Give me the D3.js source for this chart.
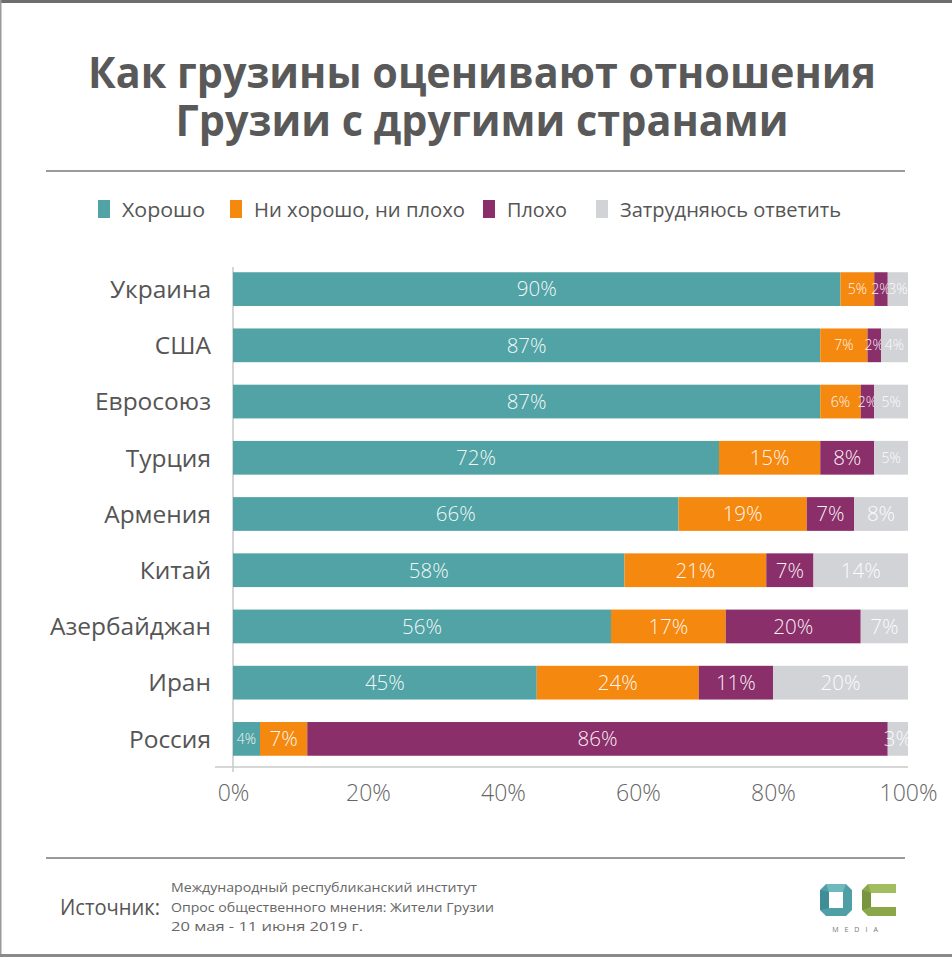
<!DOCTYPE html>
<html><head><meta charset="utf-8">
<script src="https://cdn.jsdelivr.net/npm/d3@7"></script>
<style>body{margin:0;background:#fff}svg{display:block}text{font-family:"Open Sans",sans-serif}</style>
</head><body><svg id="c" width="952" height="960"></svg>
<script>
// ---------- data ----------
const countries = ["Украина","США","Евросоюз","Турция","Армения","Китай","Азербайджан","Иран","Россия"];
const seriesKeys = ["good","neutral","bad","hard"];
const seriesNames = ["Хорошо","Ни хорошо, ни плохо","Плохо","Затрудняюсь ответить"];
const good    = [90,87,87,72,66,58,56,45,4];
const neutral = [5,7,6,15,19,21,17,24,7];
const bad     = [2,2,2,8,7,7,20,11,86];
const hard    = [3,4,5,5,8,14,7,20,3];
const xTicks  = [0,20,40,60,80,100];
const titleLines = ["Как грузины оценивают отношения","Грузии с другими странами"];
const sourceLabel = "Источник:";
const sourceLines = ["Международный республиканский институт","Опрос общественного мнения: Жители Грузии","20 мая - 11 июня 2019 г."];

// ---------- styles ----------
const colors = {good:"#52a3a5", neutral:"#f5880f", bad:"#8b2f6b", hard:"#d2d3d7"};
const smallCells = new Set(["0-1","0-2","0-3","1-1","1-2","1-3","2-1","2-2","2-3","3-3","8-0"]);

const svg = d3.select("#c");
const W = 952, H = 960;

// frame
svg.append("rect").attr("x",0).attr("y",0).attr("width",W).attr("height",3).attr("fill","#6d6d6d");
svg.append("rect").attr("x",0).attr("y",0).attr("width",1.5).attr("height",956).attr("fill","#9a9a9a");
svg.append("rect").attr("x",0).attr("y",954).attr("width",W).attr("height",3).attr("fill","#8a8a8a");

// title
const tWidths = [788, 613];
svg.selectAll("text.title").data(titleLines).join("text")
  .attr("class","title")
  .attr("x",482).attr("y",(d,i)=>88+i*48)
  .attr("text-anchor","middle")
  .attr("font-size",43).attr("font-weight",700).attr("fill","#595959")
  .attr("textLength",(d,i)=>tWidths[i]).attr("lengthAdjust","spacingAndGlyphs")
  .text(d=>d);

// separators
[171, 858].forEach(y=>svg.append("line").attr("x1",46).attr("x2",905).attr("y1",y).attr("y2",y)
  .attr("stroke","#9a9a9a").attr("stroke-width",2));

// legend
const legX = [98, 230, 483, 596];
const legW = [83, 211, 60, 221];
const leg = svg.append("g");
seriesKeys.forEach((k,i)=>{
  leg.append("rect").attr("x",legX[i]).attr("y",200).attr("width",12).attr("height",18).attr("fill",colors[k]);
  leg.append("text").attr("x",legX[i]+24).attr("y",216.5).attr("font-size",20).attr("fill","#555")
    .attr("textLength",legW[i]).attr("lengthAdjust","spacingAndGlyphs").text(seriesNames[i]);
});

// scales
const x = d3.scaleLinear().domain([0,100]).range([233,908]);
const y = d3.scaleBand().domain(countries).range([261,767]).paddingInner(0.4).paddingOuter(0.2);

const rows = countries.map((c,i)=>({country:c, good:good[i], neutral:neutral[i], bad:bad[i], hard:hard[i], idx:i}));
const stack = d3.stack().keys(seriesKeys)(rows);

// axis lines
svg.append("line").attr("x1",233).attr("x2",233).attr("y1",267).attr("y2",772).attr("stroke","#c8c8c8").attr("stroke-width",1.5);
svg.append("line").attr("x1",215).attr("x2",908).attr("y1",767).attr("y2",767).attr("stroke","#c8c8c8").attr("stroke-width",1.5);

// bars
const g = svg.append("g");
stack.forEach((layer,si)=>{
  const key = layer.key;
  layer.forEach((d,ri)=>{
    const x0 = x(d[0]), x1 = x(d[1]);
    g.append("rect").attr("x",x0).attr("y",y(d.data.country)).attr("width",x1-x0).attr("height",y.bandwidth())
      .attr("fill",colors[key]);
    const small = smallCells.has(ri+"-"+si);
    g.append("text").attr("x",(x0+x1)/2).attr("y",y(d.data.country)+y.bandwidth()/2)
      .attr("dy","0.36em").attr("text-anchor","middle")
      .attr("font-size",small?14:20.5).attr("font-weight",300)
      .attr("fill","#fff").attr("fill-opacity",0.95)
      .text(d.data[key]+"%");
  });
});

// category labels
svg.selectAll("text.cat").data(countries).join("text").attr("class","cat")
  .attr("x",211).attr("y",d=>y(d)+y.bandwidth()/2).attr("dy","0.36em")
  .attr("text-anchor","end").attr("font-size",24.5).attr("fill","#555").text(d=>d);

// x axis tick labels
const xa = d3.axisBottom(x).tickValues(xTicks).tickFormat(d=>d+"%").tickSize(0).tickPadding(0);
const ax = svg.append("g").attr("transform","translate(0,785)").call(xa);
ax.select(".domain").remove();
ax.selectAll("text").attr("font-size",23).attr("font-weight",300).attr("fill","#666")
  .attr("font-family","'Open Sans',sans-serif").attr("dy","0.71em");

// footer
svg.append("text").attr("x",60).attr("y",915).attr("font-size",22).attr("fill","#555")
  .attr("textLength",100).attr("lengthAdjust","spacingAndGlyphs").text(sourceLabel);
const srcW = [306, 323, 192];
svg.selectAll("text.src").data(sourceLines).join("text").attr("class","src")
  .attr("x",171).attr("y",(d,i)=>892+i*19.5).attr("font-size",13.5).attr("fill","#666")
  .attr("textLength",(d,i)=>srcW[i]).attr("lengthAdjust","spacingAndGlyphs").text(d=>d);

// logo
const lg = svg.append("g");
const oPath = "M826,884 L846,884 L852,890 L852,910 L846,916 L826,916 L820,910 L820,890 Z M829,892 L829,908 L843,908 L843,892 Z";
lg.append("path").attr("d",oPath).attr("fill","#4f9fa6").attr("fill-rule","evenodd");
lg.append("path").attr("d","M826,884 L846,884 L843,892 L829,892 Z").attr("fill","#6fb8bd");
lg.append("path").attr("d","M820,890 L829,892 L829,908 L820,910 Z").attr("fill","#3f8d95");
const cPath = "M868,884 L896,884 L896,893 L871,893 L871,907 L896,907 L896,916 L868,916 L862,910 L862,890 Z";
lg.append("path").attr("d",cPath).attr("fill","#8aa84a");
lg.append("path").attr("d","M868,884 L896,884 L896,893 L871,893 Z").attr("fill","#a2bd5e");
lg.append("path").attr("d","M862,890 L871,893 L871,907 L862,910 Z").attr("fill","#77953c");
lg.append("text").attr("x",858).attr("y",932).attr("text-anchor","middle").attr("font-size",7)
  .attr("letter-spacing",6).attr("fill","#777").text("MEDIA");
</script></body></html>
